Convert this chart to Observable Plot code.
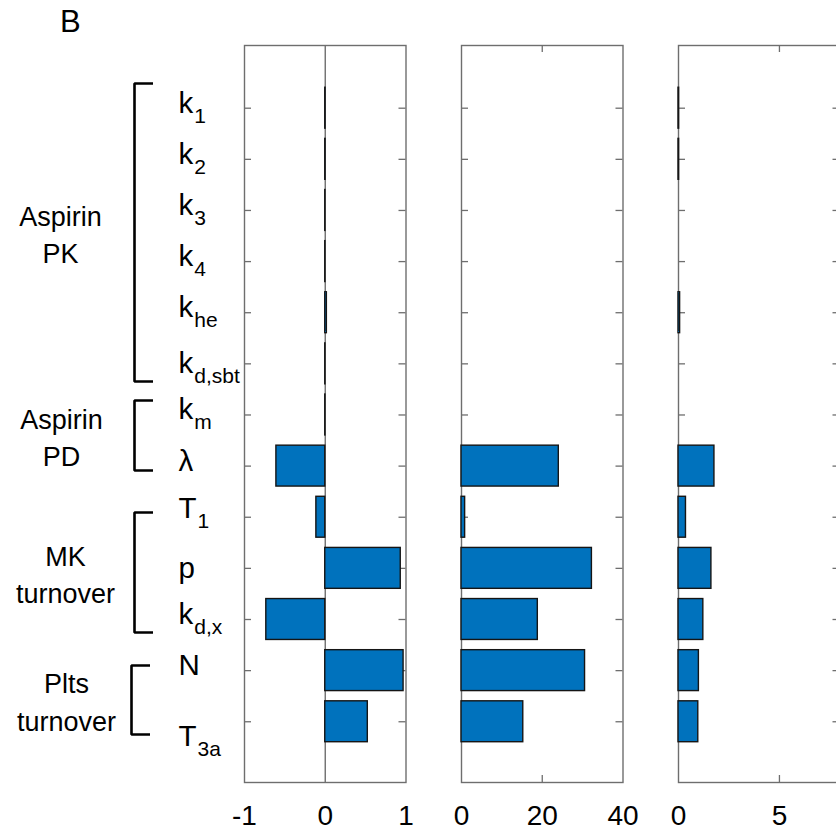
<!DOCTYPE html>
<html>
<head>
<meta charset="utf-8">
<script src="https://cdn.jsdelivr.net/npm/d3@7"></script>
<script src="https://cdn.jsdelivr.net/npm/@observablehq/plot@0.6"></script>
<style>
  html, body { margin: 0; padding: 0; background: #fff; overflow: hidden; }
  #fig { position: relative; width: 836px; height: 831px; overflow: hidden; background: #fff;
         font-family: "Liberation Sans", Arial, Helvetica, sans-serif; }
  #fig > svg { position: absolute; top: 0; }
  #fig > #panelLetter { position: absolute; font-size: 31px; left: 60px; top: 6px; line-height: 31px; color: #000; }
</style>
</head>
<body>
<div id="fig"><div id="panelLetter">B</div></div>
<script>
// ---------------- data ----------------
const params     = ["k1", "k2", "k3", "k4", "khe", "kd,sbt", "km", "λ", "T1", "p", "kd,x", "N", "T3a"];
const paramBase  = ["k",  "k",  "k",  "k",  "k",   "k",      "k",  "λ", "T",  "p", "k",    "N", "T"];
const paramSub   = ["1",  "2",  "3",  "4",  "he",  "d,sbt",  "m",  "",  "1",  "",  "d,x",  "",  "3a"];

const panel1Values = [0.004, 0.004, 0.002, 0.002, 0.02, 0.002, 0.002, -0.605, -0.11, 0.935, -0.73, 0.97, 0.527];
const panel2Values = [0, 0, 0, 0, 0, 0, 0, 24.1, 0.9, 32.3, 18.9, 30.6, 15.3];
const panel3Values = [0.03, 0.03, 0, 0, 0.08, 0, 0, 1.78, 0.37, 1.63, 1.23, 1.01, 0.98];

const panelDomains   = [[-1, 1], [0, 40], [0, 8]];
const panelTickLabels = [[-1, 0, 1], [0, 20, 40], [0, 5]];
const panelInnerTicks = [[], [20], [5]];

const groupNames = ["Aspirin\nPK", "Aspirin\nPD", "MK\nturnover", "Plts\nturnover"];
const groupFirst = ["k1", "km", "T1", "N"];
const groupLast  = ["kd,sbt", "λ", "kd,x", "T3a"];

// ---------------- layout ----------------
const FONT = '"Liberation Sans", Arial, Helvetica, sans-serif';
const H = 831, MT = 45, MB = 49;
const ROW0 = 107.7, ROW_PX = 51.13;
const Y_DOMAIN = [(MT - ROW0) / ROW_PX, (H - MB - ROW0) / ROW_PX];
const FW = 161.5, SIDE = 20;
const panelLefts = [244, 460.7, 678.3];
const AXIS = "#6e6e6e";
const BAR_FILL = "#0072BD", BAR_EDGE = "#151515";
const labelNudgePx = {"T3a": 20, "T1": -4, "p": 5, "kd,sbt": 5};
const bracketPads = [[-0.482, 0.345], [-0.283, 0.086], [-0.093, 0.254], [-0.1, 0.25]];
const bracketX = [134, 134, 134, 131];
const bracketArm = 18.5;
const groupCenterX = [60, 61, 65, 66];

const fig = document.getElementById("fig");
const FH = H - MT - MB;

// ---------------- panels ----------------
function makePanel(values, k) {
  const rows = params.map((p, i) => ({p, i, v: values[i]}));
  const marks = [
    Plot.frame({stroke: AXIS, strokeWidth: 1.4}),
    Plot.tickY(rows, {y: "i", stroke: AXIS, strokeWidth: 1.3, insetRight: FW - 7}),
    Plot.tickY(rows, {y: "i", stroke: AXIS, strokeWidth: 1.3, insetLeft: FW - 7}),
    Plot.tickX(panelInnerTicks[k], {stroke: AXIS, strokeWidth: 1.3, insetBottom: FH - 7}),
    Plot.tickX(panelInnerTicks[k], {stroke: AXIS, strokeWidth: 1.3, insetTop: FH - 7}),
  ];
  if (k === 0) marks.push(Plot.ruleX([0], {stroke: AXIS, strokeWidth: 1.4}));
  marks.push(
    Plot.rectX(rows, {
      filter: d => d.v !== 0,
      x1: 0, x2: "v",
      y1: d => d.i - 0.4, y2: d => d.i + 0.4,
      fill: BAR_FILL, stroke: BAR_EDGE, strokeWidth: 1.4
    }),
    Plot.axisX({
      anchor: "bottom", ticks: panelTickLabels[k], tickSize: 0, tickPadding: 23,
      fontSize: 28, fill: "#000", label: null,
      tickFormat: d => (d < 0 ? "-" + Math.abs(d) : String(d))
    })
  );
  const svg = Plot.plot({
    width: FW + 2 * SIDE, height: H,
    marginLeft: SIDE, marginRight: SIDE, marginTop: MT, marginBottom: MB,
    style: {background: "transparent", fontFamily: FONT, overflow: "visible"},
    x: {domain: panelDomains[k], label: null},
    y: {domain: Y_DOMAIN, reverse: true, axis: null},
    marks
  });
  svg.style.left = (panelLefts[k] - SIDE) + "px";
  svg.style.maxWidth = "none";
  fig.appendChild(svg);
}
[panel1Values, panel2Values, panel3Values].forEach((v, k) => makePanel(v, k));

// ---------------- labels & brackets ----------------
const labelRows = params.map((p, i) => ({p, i, base: paramBase[i], sub: paramSub[i]}));
const bracketRows = groupNames.map((g, j) => {
  const top = params.indexOf(groupFirst[j]) + bracketPads[j][0];
  const bottom = params.indexOf(groupLast[j]) + bracketPads[j][1];
  return {g, j, top, bottom, mid: (top + bottom) / 2};
});
const bracketPts = bracketRows.flatMap(b => [
  {j: b.j, x: bracketX[b.j] + bracketArm, y: b.top},
  {j: b.j, x: bracketX[b.j], y: b.top},
  {j: b.j, x: bracketX[b.j], y: b.bottom},
  {j: b.j, x: bracketX[b.j] + bracketArm, y: b.bottom}
]);

const labelSvg = Plot.plot({
  width: 244, height: H,
  marginLeft: 0, marginRight: 0, marginTop: MT, marginBottom: MB,
  style: {background: "transparent", fontFamily: FONT, overflow: "visible"},
  x: {domain: [0, 244], axis: null},
  y: {domain: Y_DOMAIN, reverse: true, axis: null},
  marks: [
    Plot.text(labelRows, {
      x: () => 178, y: d => d.i + (labelNudgePx[d.p] || 0) / ROW_PX,
      text: "base", textAnchor: "start", fontSize: 29.5, dy: -5, fill: "#000"
    }),
    Plot.text(bracketRows, {
      x: d => groupCenterX[d.j], y: "mid", text: "g",
      textAnchor: "middle", fontSize: 27, lineHeight: 1.38, fill: "#000"
    }),
    Plot.line(bracketPts, {
      x: "x", y: "y", z: "j", stroke: "#000", strokeWidth: 2.6,
      strokeLinejoin: "miter", strokeLinecap: "butt"
    })
  ]
});
labelSvg.style.left = "0px";
labelSvg.style.maxWidth = "none";
fig.appendChild(labelSvg);

// subscripts
const textGroups = labelSvg.querySelectorAll('g[aria-label="text"]');
const paramTexts = textGroups[0].querySelectorAll("text");
paramTexts.forEach((t, idx) => {
  const s = labelRows[idx].sub;
  if (s) {
    const ts = document.createElementNS("http://www.w3.org/2000/svg", "tspan");
    ts.setAttribute("dy", "10");
    ts.setAttribute("dx", "1");
    ts.setAttribute("font-size", "21");
    ts.textContent = s;
    t.appendChild(ts);
  }
});
</script>
</body>
</html>
